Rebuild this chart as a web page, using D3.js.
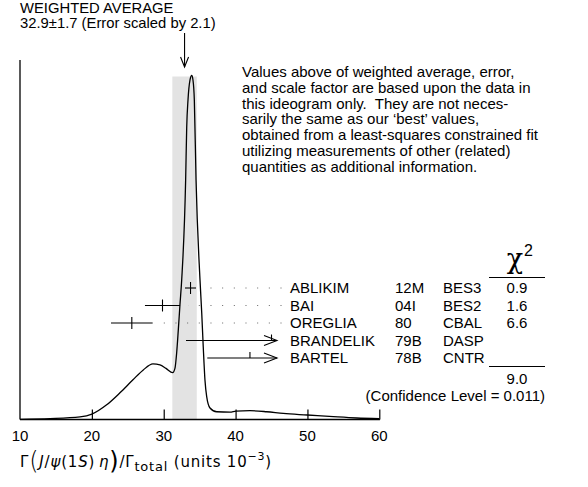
<!DOCTYPE html>
<html><head><meta charset="utf-8">
<script src="https://cdn.jsdelivr.net/npm/d3@7"></script>
<style>
html,body{margin:0;padding:0;background:#fff;}
svg{display:block;}
text{font-family:"Liberation Sans",Arial,Helvetica,sans-serif;font-size:15px;fill:#000;}
</style></head>
<body>
<script>
// ---- data ----
const xTicks = [10, 20, 30, 40, 50, 60];
const avgValue = 32.9;
const avgError = 1.7;
const headerLines = ["WEIGHTED AVERAGE", "32.9\u00b11.7 (Error scaled by 2.1)"];
const noteLines = [
  "Values above of weighted average, error,",
  "and scale factor are based upon the data in",
  "this ideogram only.  They are not neces-",
  "sarily the same as our \u2018best\u2019 values,",
  "obtained from a least-squares constrained fit",
  "utilizing measurements of other (related)",
  "quantities as additional information."
];
const names  = ["ABLIKIM", "BAI", "OREGLIA", "BRANDELIK", "BARTEL"];
const docs   = ["12M", "04I", "80", "79B", "78B"];
const techs  = ["BES3", "BES2", "CBAL", "DASP", "CNTR"];
const values = [33.73, 29.83, 25.56, 45.0, 42.0];
const errors = [0.77, 2.44, 2.9, 11.9, 5.94];
const used   = [true, true, true, false, false];
const chi2   = ["0.9", "1.6", "6.6", "", ""];
const chi2Total = "9.0";
const confText = "(Confidence Level = 0.011)";
// ideogram curve (x value, relative height)
const curveX = [10, 14.17, 18.35, 20.0, 22.06, 23.91, 25.72, 27.12, 28.5, 29.48, 30.32, 31.25, 31.57, 31.8, 32.03, 32.26, 32.5, 33.05, 33.2, 33.38, 33.66, 33.9, 34.07, 34.26, 34.5, 35.05, 35.29, 35.5, 35.74, 35.98, 36.44, 37.37, 39.22, 40.06, 42.0, 44.33, 46.64, 49.98, 53.6, 56.85, 60];
const curveY = [0, 0.002, 0.007, 0.015, 0.042, 0.077, 0.115, 0.143, 0.161, 0.158, 0.148, 0.136, 0.149, 0.193, 0.26, 0.333, 0.405, 0.695, 0.85, 0.929, 0.987, 1.0, 0.987, 0.929, 0.695, 0.405, 0.309, 0.211, 0.114, 0.066, 0.033, 0.022, 0.021, 0.024, 0.025, 0.022, 0.017, 0.0125, 0.0076, 0.0038, 0.002];

// ---- layout ----
const W = 588, H = 487;
const svg = d3.select("body").append("svg").attr("width", W).attr("height", H);
const x = d3.scaleLinear().domain([10, 60]).range([20, 379.3]);
const y = d3.scaleLinear().domain([0, 1]).range([419.3, 75.5]);
const axisY = 419.5;
const rowY = d3.scalePoint().domain(d3.range(names.length)).range([288, 358]);

// shaded band
svg.append("rect")
  .attr("x", x(avgValue - avgError)).attr("width", x(avgValue + avgError) - x(avgValue - avgError))
  .attr("y", 76.5).attr("height", axisY - 76.5)
  .attr("fill", "#e3e3e3");

// x axis
const xAxis = d3.axisTop(x).tickValues(xTicks.slice(1)).tickSize(10).tickFormat("");
const gx = svg.append("g").attr("transform", `translate(0,${axisY})`).call(xAxis);
gx.select(".domain").remove();
gx.selectAll(".tick line").attr("stroke", "#000").attr("stroke-width", 1.2);
svg.append("line").attr("x1", x(10)).attr("x2", x(60) + 0.6).attr("y1", axisY).attr("y2", axisY)
  .attr("stroke", "#000").attr("stroke-width", 1.3);
svg.append("line").attr("x1", x(10)).attr("x2", x(10)).attr("y1", 60).attr("y2", axisY)
  .attr("stroke", "#000").attr("stroke-width", 1.3);
svg.selectAll("text.tl").data(xTicks).enter().append("text").attr("class", "tl")
  .attr("x", d => x(d)).attr("y", 440.7).attr("text-anchor", "middle").text(d => d);

// curve
const pts = curveX.map((v, i) => [v, curveY[i]]);
svg.append("path").datum(pts)
  .attr("d", d3.line().x(d => x(d[0])).y(d => y(d[1])).curve(d3.curveMonotoneX))
  .attr("fill", "none").attr("stroke", "#000").attr("stroke-width", 1.3);

// header + arrow
svg.selectAll("text.hd").data(headerLines).enter().append("text").attr("class", "hd")
  .attr("x", 20).attr("y", (d, i) => 12.7 + i * 15.6).style("font-size", "14.8px").text(d => d);
const ax = x(avgValue);
svg.append("line").attr("x1", ax).attr("x2", ax).attr("y1", 33).attr("y2", 67)
  .attr("stroke", "#000").attr("stroke-width", 1.1);
svg.append("path").attr("d", `M${ax - 4},${57} L${ax},${67} L${ax + 4},${57}`)
  .attr("fill", "none").attr("stroke", "#000").attr("stroke-width", 1.1);

// note
svg.selectAll("text.nt").data(noteLines).enter().append("text").attr("class", "nt")
  .attr("x", 242).attr("y", (d, i) => 77 + i * 15.8).attr("xml:space", "preserve").text(d => d);

// measurements
const labelX = 290;
names.forEach((n, i) => {
  const yy = rowY(i);
  const g = svg.append("g");
  if (used[i]) {
    const x0 = x(values[i] - errors[i]), x1 = x(values[i] + errors[i]);
    g.append("line").attr("x1", x0).attr("x2", x1).attr("y1", yy).attr("y2", yy).attr("stroke", "#000").attr("stroke-width", 1.1);
    g.append("line").attr("x1", x(values[i])).attr("x2", x(values[i])).attr("y1", yy - 6).attr("y2", yy + 6).attr("stroke", "#000").attr("stroke-width", 1.1);
    // dotted leader, dot grid anchored at the label end
    g.append("line").attr("x1", 281.5).attr("x2", x1 + 8).attr("y1", yy).attr("y2", yy)
      .attr("stroke", "#666").attr("stroke-width", 1).attr("stroke-dasharray", "1 10.67");
  } else {
    const x0 = x(values[i] - errors[i]), xe = 277;
    g.append("line").attr("x1", x0).attr("x2", xe).attr("y1", yy).attr("y2", yy).attr("stroke", "#000").attr("stroke-width", 1.1);
    g.append("path").attr("d", `M${xe - 13},${yy - 5} L${xe},${yy} L${xe - 13},${yy + 5}`)
      .attr("fill", "none").attr("stroke", "#000").attr("stroke-width", 1.1);
    g.append("line").attr("x1", x(values[i])).attr("x2", x(values[i])).attr("y1", yy - 6).attr("y2", yy).attr("stroke", "#000").attr("stroke-width", 1.1);
  }
  const by = yy + 5.3;
  g.append("text").attr("x", labelX).attr("y", by).text(n);
  g.append("text").attr("x", 395).attr("y", by).text(docs[i]);
  g.append("text").attr("x", 443).attr("y", by).text(techs[i]);
  if (chi2[i]) g.append("text").attr("x", 517).attr("y", by).attr("text-anchor", "middle").text(chi2[i]);
});

// chi2 header
svg.append("text").attr("x", 515).attr("y", 268).attr("text-anchor", "middle")
  .style("font-family", "'DejaVu Serif',serif").style("font-size", "27px").text("\u03c7");
svg.append("text").attr("x", 524).attr("y", 256).style("font-size", "16px").text("2");
svg.append("line").attr("x1", 489).attr("x2", 545).attr("y1", 277.5).attr("y2", 277.5).attr("stroke", "#000").attr("stroke-width", 1.1);
svg.append("line").attr("x1", 489).attr("x2", 545).attr("y1", 366.5).attr("y2", 366.5).attr("stroke", "#000").attr("stroke-width", 1.1);
svg.append("text").attr("x", 517).attr("y", 383.5).attr("text-anchor", "middle").text(chi2Total);
svg.append("text").attr("x", 545).attr("y", 401).attr("text-anchor", "end").text(confText);

// x-axis title
const t = svg.append("text").attr("x", 20).attr("y", 467).style("font-family", "'DejaVu Sans',sans-serif")
  .style("font-size", "15px").style("letter-spacing", "0.8px");
t.append("tspan").text("\u0393");
t.append("tspan").style("font-size", "24px").style("font-weight", "200").attr("dy", 2).text("(");
t.append("tspan").style("font-style", "italic").attr("dy", -2).text("J");
t.append("tspan").text("/");
t.append("tspan").style("font-style", "italic").text("\u03c8");
t.append("tspan").text("(1");
t.append("tspan").style("font-style", "italic").text("S");
t.append("tspan").text(")");
t.append("tspan").style("font-style", "italic").text("\u2009\u03b7");
t.append("tspan").style("font-size", "24px").attr("dy", 2).text(")");
t.append("tspan").attr("dy", -2).text("/\u0393");
t.append("tspan").style("font-size", "13px").attr("dy", 4).text("total");
t.append("tspan").attr("dy", -4).attr("xml:space", "preserve").text(" (units 10");
t.append("tspan").style("font-size", "11px").attr("dy", -7).text("\u22123");
t.append("tspan").attr("dy", 7).text(")");
</script>
</body></html>
